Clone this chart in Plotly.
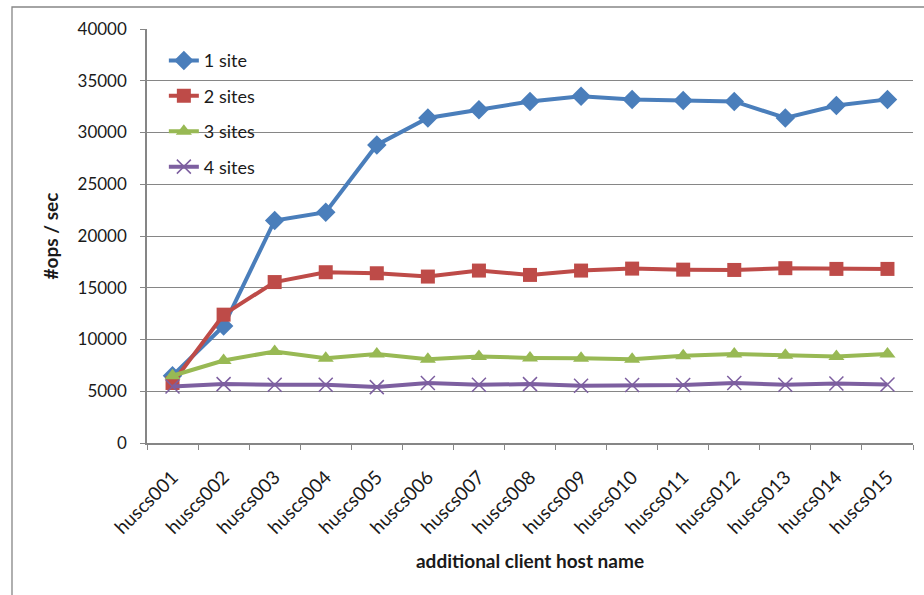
import plotly.graph_objects as go

hosts = [f"huscs{i:03d}" for i in range(1, 16)]

one_site = [6500, 11300, 21500, 22300, 28800, 31400, 32200, 33000, 33500, 33200, 33100, 33000, 31400, 32600, 33200]
two_sites = [5800, 12400, 15550, 16500, 16400, 16080, 16660, 16240, 16660, 16850, 16750, 16720, 16890, 16820, 16820]
three_sites = [6500, 7970, 8840, 8200, 8600, 8100, 8360, 8220, 8180, 8100, 8420, 8590, 8490, 8360, 8590]
four_sites = [5460, 5690, 5630, 5630, 5400, 5790, 5630, 5690, 5530, 5600, 5600, 5790, 5630, 5750, 5660]

series = [
    ("1 site", one_site, "#4A7EBB", "diamond", 15),
    ("2 sites", two_sites, "#BE4B48", "square", 14),
    ("3 sites", three_sites, "#98B954", "triangle-up", 14),
    ("4 sites", four_sites, "#7D5FA0", "x-thin-open", 14),
]

FONT = "Lato, Open Sans, sans-serif"
TEXT = "#1a1a1a"

fig = go.Figure()
for i, (name, vals, color, symbol, size) in enumerate(series):
    marker = dict(symbol=symbol, size=size, color=color)
    if symbol == "x-thin-open":
        marker["line"] = dict(color=color, width=1.5)
    fig.add_trace(go.Scatter(
        x=hosts, y=vals, name=name, mode="lines+markers",
        line=dict(color=color, width=4),
        marker=marker,
        legendgroup=f"g{i}",
    ))

fig.update_layout(
    width=924, height=595,
    margin=dict(l=147, r=11, t=29, b=152),
    paper_bgcolor="white", plot_bgcolor="white",
    font=dict(family=FONT, size=17, color=TEXT),
    showlegend=True,
    legend=dict(
        x=0.022, y=0.968, xanchor="left", yanchor="top",
        bgcolor="rgba(0,0,0,0)", font=dict(size=18, family=FONT, color=TEXT),
        traceorder="grouped", tracegroupgap=9,
    ),
    xaxis=dict(
        type="category", showgrid=False, zeroline=False,
        showline=True, linecolor="#868686", linewidth=1.5,
        ticks="outside", tickson="boundaries", ticklen=5, tickcolor="#868686",
        tickangle=-45, tickfont=dict(size=19, family=FONT, color=TEXT),
        ticklabelstandoff=14,
        title=dict(text="<b>additional client host name</b>", font=dict(size=19, family=FONT, color=TEXT), standoff=18),
        range=[-0.5, 14.5],
    ),
    yaxis=dict(
        range=[0, 40000], dtick=5000, showgrid=True, gridcolor="#868686", gridwidth=1.3,
        zeroline=False, showline=True, linecolor="#868686", linewidth=1.5,
        ticks="outside", ticklen=5, tickcolor="#868686",
        tickfont=dict(size=17, family=FONT, color=TEXT), tickformat="d",
        ticklabelstandoff=10,
        title=dict(text="<b>#ops / sec</b>", font=dict(size=19, family=FONT, color=TEXT), standoff=14),
    ),
    shapes=[dict(
        type="rect", xref="paper", yref="paper",
        x0=(12 - 147) / 766, x1=1.2, y0=-0.6, y1=(443 - 7) / 414,
        line=dict(color="#868686", width=1.3), fillcolor="rgba(0,0,0,0)", layer="below",
    )],
)

fig.write_html("out.html")
